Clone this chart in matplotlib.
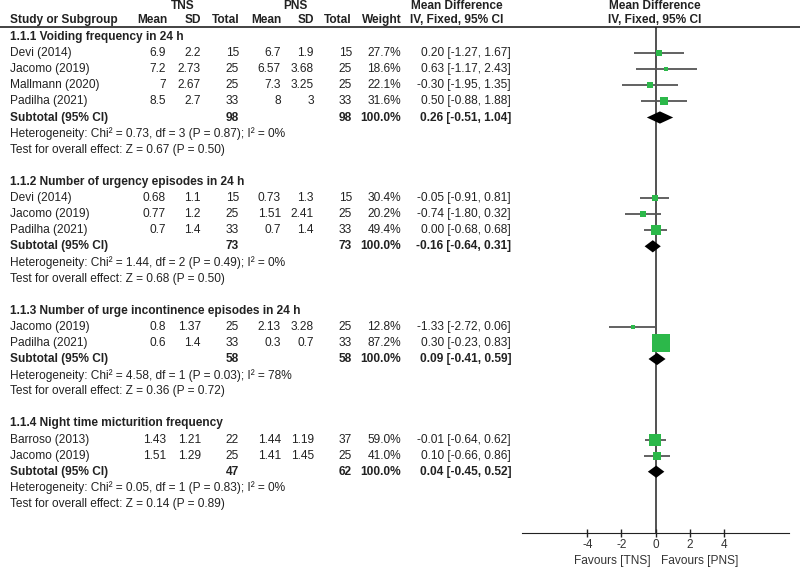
import matplotlib
matplotlib.use("Agg")
import matplotlib.pyplot as plt
import matplotlib.transforms as mtransforms
from matplotlib.lines import Line2D

plt.rcParams['font.family'] = ['Liberation Sans', 'DejaVu Sans']

# ---------------- data ----------------
group_titles = [
    "1.1.1 Voiding frequency in 24 h",
    "1.1.2 Number of urgency episodes in 24 h",
    "1.1.3 Number of urge incontinence episodes in 24 h",
    "1.1.4 Night time micturition frequency",
]
studies = [
    ["Devi (2014)", "Jacomo (2019)", "Mallmann (2020)", "Padilha (2021)"],
    ["Devi (2014)", "Jacomo (2019)", "Padilha (2021)"],
    ["Jacomo (2019)", "Padilha (2021)"],
    ["Barroso (2013)", "Jacomo (2019)"],
]
tns_mean = [["6.9", "7.2", "7", "8.5"], ["0.68", "0.77", "0.7"], ["0.8", "0.6"], ["1.43", "1.51"]]
tns_sd = [["2.2", "2.73", "2.67", "2.7"], ["1.1", "1.2", "1.4"], ["1.37", "1.4"], ["1.21", "1.29"]]
tns_n = [[15, 25, 25, 33], [15, 25, 33], [25, 33], [22, 25]]
pns_mean = [["6.7", "6.57", "7.3", "8"], ["0.73", "1.51", "0.7"], ["2.13", "0.3"], ["1.44", "1.41"]]
pns_sd = [["1.9", "3.68", "3.25", "3"], ["1.3", "2.41", "1.4"], ["3.28", "0.7"], ["1.19", "1.45"]]
pns_n = [[15, 25, 25, 33], [15, 25, 33], [25, 33], [37, 25]]
weights = [[27.7, 18.6, 22.1, 31.6], [30.4, 20.2, 49.4], [12.8, 87.2], [59.0, 41.0]]
md = [[0.20, 0.63, -0.30, 0.50], [-0.05, -0.74, 0.00], [-1.33, 0.30], [-0.01, 0.10]]
ci_lo = [[-1.27, -1.17, -1.95, -0.88], [-0.91, -1.80, -0.68], [-2.72, -0.23], [-0.64, -0.66]]
ci_hi = [[1.67, 2.43, 1.35, 1.88], [0.81, 0.32, 0.68], [0.06, 0.83], [0.62, 0.86]]
sub_md = [0.26, -0.16, 0.09, 0.04]
sub_lo = [-0.51, -0.64, -0.41, -0.45]
sub_hi = [1.04, 0.31, 0.59, 0.52]
heterogeneity = [
    "Heterogeneity: Chi\u00b2 = 0.73, df = 3 (P = 0.87); I\u00b2 = 0%",
    "Heterogeneity: Chi\u00b2 = 1.44, df = 2 (P = 0.49); I\u00b2 = 0%",
    "Heterogeneity: Chi\u00b2 = 4.58, df = 1 (P = 0.03); I\u00b2 = 78%",
    "Heterogeneity: Chi\u00b2 = 0.05, df = 1 (P = 0.83); I\u00b2 = 0%",
]
overall = [
    "Test for overall effect: Z = 0.67 (P = 0.50)",
    "Test for overall effect: Z = 0.68 (P = 0.50)",
    "Test for overall effect: Z = 0.36 (P = 0.72)",
    "Test for overall effect: Z = 0.14 (P = 0.89)",
]
xticks = [-4, -2, 0, 2, 4]

# ---------------- layout ----------------
W, H = 800, 567
fig = plt.figure(figsize=(W / 100, H / 100), dpi=100)
row_px0, row_h = 37.0, 16.1
ax = fig.add_axes([522 / W, 0, (789 - 522) / W, 1])
ax.set_xlim(-7.85, 7.85)
ax.set_ylim((H - row_px0) / row_h, -row_px0 / row_h)
for s in ["top", "left", "right"]:
    ax.spines[s].set_visible(False)
axis_row = (533 - row_px0) / row_h
ax.spines["bottom"].set_position(("data", axis_row))
ax.spines["bottom"].set_color("#222222")
ax.set_yticks([])
ax.set_xticks(xticks)
ax.set_xticklabels([str(t) for t in xticks])
ax.tick_params(axis="x", direction="inout", length=6, width=1, colors="#222222",
               labelsize=8.5, pad=1, labelcolor="#333333")
ax.patch.set_alpha(0)

tr = mtransforms.blended_transform_factory(fig.transFigure, ax.transData)
FS = 8.6
TXT = "#222222"


def put(xpx, row, s, ha="right", bold=False, **kw):
    ax.text(xpx / W, row, s, transform=tr, ha=ha, va="center", fontsize=FS,
            fontweight="bold" if bold else "normal", color=TXT, **kw)


# headers
hdr_row = -1.06
put(183, -1.93, "TNS", ha="center", bold=True)
put(295, -1.93, "PNS", ha="center", bold=True)
put(457, -1.93, "Mean Difference", ha="center", bold=True)
put(655, -1.93, "Mean Difference", ha="center", bold=True)
put(10, hdr_row, "Study or Subgroup", ha="left", bold=True)
for xp, lab in [(167, "Mean"), (201, "SD"), (239, "Total"), (281, "Mean"),
                (314, "SD"), (352, "Total"), (402, "Weight")]:
    put(xp, hdr_row, lab, bold=True)
put(457, hdr_row, "IV, Fixed, 95% CI", ha="center", bold=True)
put(655, hdr_row, "IV, Fixed, 95% CI", ha="center", bold=True)
line_row = -0.62
fig.add_artist(Line2D([0, 1], [line_row, line_row], transform=tr, color="#222222", lw=1.2))

# zero line
ax.vlines(0, line_row, axis_row, color="#222222", lw=1.1, zorder=1)

row = 0
for g in range(len(group_titles)):
    put(10, row, group_titles[g], ha="left", bold=True)
    row += 1
    for i, name in enumerate(studies[g]):
        put(10, row, name, ha="left")
        put(166, row, tns_mean[g][i])
        put(201, row, tns_sd[g][i])
        put(239, row, str(tns_n[g][i]))
        put(281, row, pns_mean[g][i])
        put(314, row, pns_sd[g][i])
        put(352, row, str(pns_n[g][i]))
        put(401, row, f"{weights[g][i]:.1f}%")
        put(511, row, f"{md[g][i]:.2f} [{ci_lo[g][i]:.2f}, {ci_hi[g][i]:.2f}]")
        ax.hlines(row, ci_lo[g][i], ci_hi[g][i], color="#555555", lw=1.3, zorder=2)
        side_px = 0.18 * weights[g][i] + 1.5
        ax.plot(md[g][i], row, marker="s", ms=side_px * 0.72, mfc="#2cb84a",
                mec="#2cb84a", mew=0, zorder=3, ls="none")
        row += 1
    put(10, row, "Subtotal (95% CI)", ha="left", bold=True)
    put(239, row, str(sum(tns_n[g])), bold=True)
    put(352, row, str(sum(pns_n[g])), bold=True)
    put(401, row, "100.0%", bold=True)
    put(511, row, f"{sub_md[g]:.2f} [{sub_lo[g]:.2f}, {sub_hi[g]:.2f}]", bold=True)
    hh = 0.38
    ax.fill([sub_lo[g], sub_md[g], sub_hi[g], sub_md[g]],
            [row, row - hh, row, row + hh], color="black", zorder=4, lw=0)
    row += 1
    put(10, row, heterogeneity[g], ha="left")
    row += 1
    put(10, row, overall[g], ha="left")
    row += 2

fav_row = (561 - row_px0) / row_h
ax.text(-0.3, fav_row, "Favours [TNS]", ha="right", va="center", fontsize=FS, color="#333333")
ax.text(0.35, fav_row, "Favours [PNS]", ha="left", va="center", fontsize=FS, color="#333333")

fig.savefig("out.png", dpi=100, facecolor="white")
